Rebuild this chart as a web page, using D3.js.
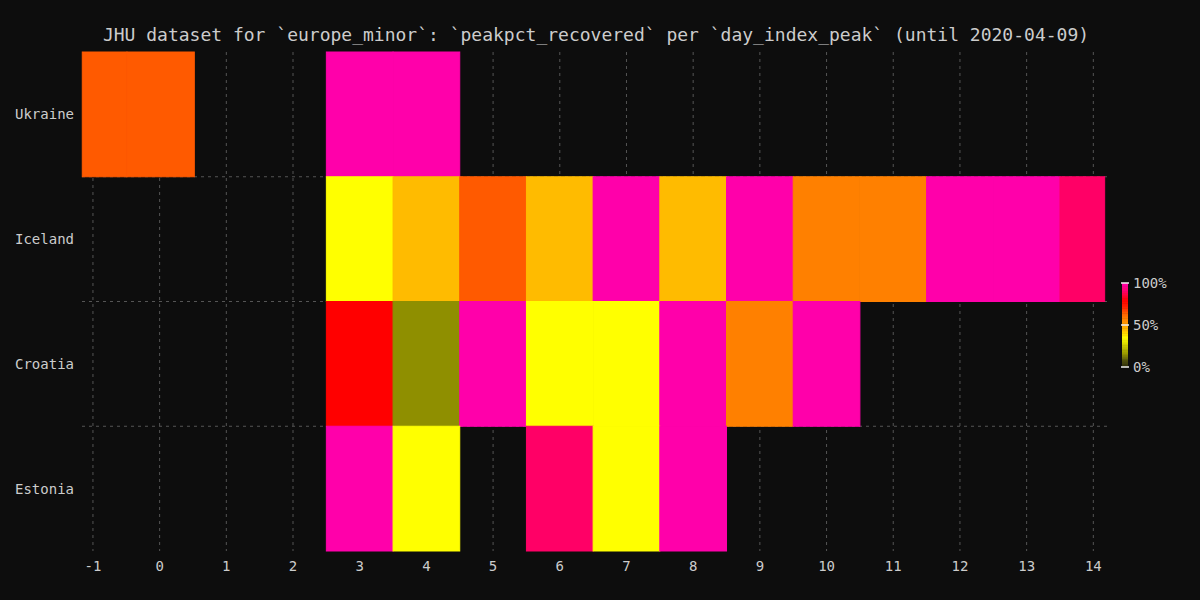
<!DOCTYPE html>
<html>
<head>
<meta charset="utf-8">
<script src="https://cdn.jsdelivr.net/npm/d3@7"></script>
<style>
  body { margin: 0; background: #0d0d0d; }
  text { font-family: "DejaVu Sans Mono", monospace; fill: #cccccc; }
</style>
</head>
<body>
<svg id="chart" width="1200" height="600"></svg>
<script>
'use strict';

const countries = ['Ukraine', 'Iceland', 'Croatia', 'Estonia'];
const xTicks = d3.range(-1, 15);

// [country, day start, day end, value %]
const cells = [
  ['Ukraine', -1.16, -0.49, 65], ['Ukraine', -0.49, 0.52, 65],
  ['Ukraine', 2.5, 3.5, 100], ['Ukraine', 3.5, 4.5, 100],
  ['Iceland', 2.5, 3.5, 35], ['Iceland', 3.5, 4.5, 45], ['Iceland', 4.5, 5.5, 65],
  ['Iceland', 5.5, 6.5, 45], ['Iceland', 6.5, 7.5, 100], ['Iceland', 7.5, 8.5, 45],
  ['Iceland', 8.5, 9.5, 100], ['Iceland', 9.5, 10.5, 58], ['Iceland', 10.5, 11.5, 58],
  ['Iceland', 11.5, 12.5, 100], ['Iceland', 12.5, 13.5, 100], ['Iceland', 13.5, 14.17, 90],
  ['Croatia', 2.5, 3.5, 80], ['Croatia', 3.5, 4.5, 15], ['Croatia', 4.5, 5.5, 100],
  ['Croatia', 5.5, 6.5, 35], ['Croatia', 6.5, 7.5, 35], ['Croatia', 7.5, 8.5, 100],
  ['Croatia', 8.5, 9.5, 58], ['Croatia', 9.5, 10.5, 100],
  ['Estonia', 2.5, 3.5, 100], ['Estonia', 3.5, 4.5, 35], ['Estonia', 5.5, 6.5, 90],
  ['Estonia', 6.5, 7.5, 35], ['Estonia', 7.5, 8.5, 100]
];

const colorStops = [0, 8, 15, 25, 35, 45, 52, 58, 65, 72, 80, 90, 100];
const colorValues = ['#2a2a08', '#505010', '#8f8f00', '#c8c800', '#ffff00', '#ffbb00',
  '#ff9a00', '#ff8000', '#ff5a00', '#ff2000', '#ff0000', '#ff0066', '#ff00aa'];

const margin = { top: 52, right: 90, bottom: 49, left: 82 };
const width = 1200, height = 600;

const svg = d3.select('#chart');
svg.append('rect').attr('width', width).attr('height', height).attr('fill', '#0d0d0d');

const x = d3.scaleLinear().domain([-1.164, 14.25]).range([margin.left, width - margin.right]);
const y = d3.scaleBand().domain(countries).range([margin.top, height - margin.bottom]);
const color = d3.scaleLinear().domain(colorStops).range(colorValues);

// grid
const grid = svg.append('g').attr('stroke', '#555').attr('stroke-dasharray', '3,4');
grid.selectAll('.vx').data(xTicks).join('line')
  .attr('x1', d => x(d)).attr('x2', d => x(d))
  .attr('y1', margin.top).attr('y2', height - margin.bottom);
grid.selectAll('.hy').data(countries.slice(1)).join('line')
  .attr('x1', margin.left).attr('x2', width - margin.right)
  .attr('y1', d => y(d)).attr('y2', d => y(d));

// cells
svg.append('g').selectAll('rect').data(cells).join('rect')
  .attr('x', d => x(d[1]))
  .attr('width', d => x(d[2]) - x(d[1]))
  .attr('y', d => y(d[0]))
  .attr('height', y.bandwidth())
  .attr('fill', d => color(d[3]))
  .attr('stroke', d => color(d[3]));

// axes
svg.append('g').selectAll('text').data(xTicks).join('text')
  .attr('x', d => x(d)).attr('y', 571).attr('text-anchor', 'middle')
  .attr('font-size', 14).text(d => d);
svg.append('g').selectAll('text').data(countries).join('text')
  .attr('x', 15).attr('y', d => y(d) + y.bandwidth() / 2 + 5)
  .attr('font-size', 14).text(d => d);

svg.append('text').attr('x', 596).attr('y', 41).attr('text-anchor', 'middle')
  .attr('font-size', 18)
  .text('JHU dataset for `europe_minor`: `peakpct_recovered` per `day_index_peak` (until 2020-04-09)');

// colorbar
const cb = d3.scaleLinear().domain([0, 100]).range([367, 283]);
const bands = d3.range(0, 100, 2);
svg.append('g').selectAll('rect').data(bands).join('rect')
  .attr('x', 1122).attr('width', 6)
  .attr('y', d => cb(d + 2)).attr('height', cb(0) - cb(2) + 0.5)
  .attr('fill', d => color(d + 1));
svg.append('g').selectAll('g').data([0, 50, 100]).join(g => {
  const t = g.append('g');
  t.append('line').attr('x1', 1121).attr('x2', 1129)
    .attr('y1', d => cb(d)).attr('y2', d => cb(d)).attr('stroke', '#eee').attr('stroke-width', 1.5);
  t.append('text').attr('x', 1133).attr('y', d => cb(d) + 5)
    .attr('font-size', 14).text(d => d + '%');
  return t;
});
</script>
</body>
</html>
